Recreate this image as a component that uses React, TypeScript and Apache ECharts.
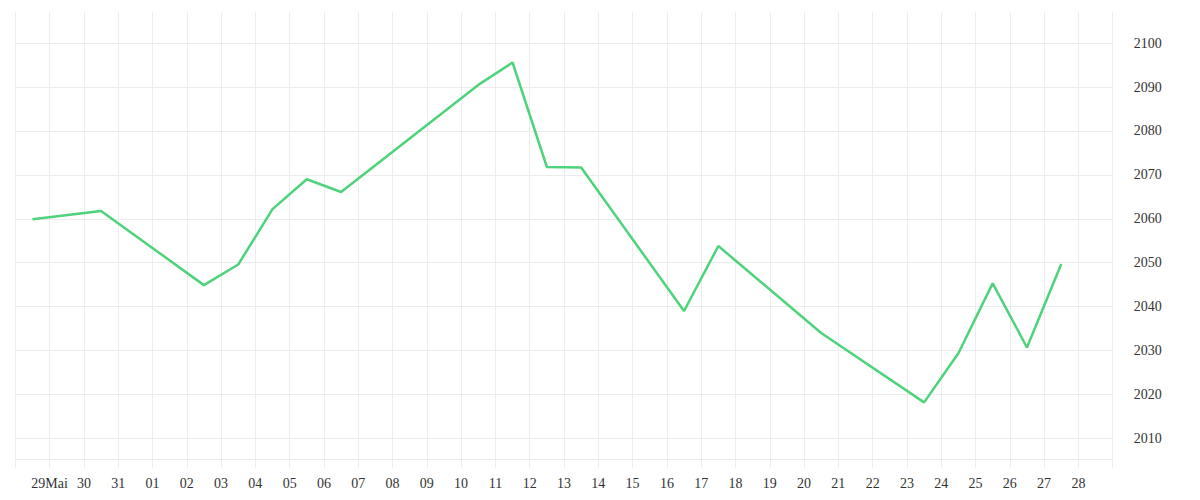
import React, { useEffect, useRef } from "react";
import * as echarts from "echarts";

// Points sit at noon of each trading day
const dates = [
  "2019-05-28", "2019-05-30", "2019-06-02", "2019-06-03", "2019-06-04",
  "2019-06-05", "2019-06-06", "2019-06-10", "2019-06-11", "2019-06-12",
  "2019-06-13", "2019-06-16", "2019-06-17", "2019-06-20", "2019-06-23",
  "2019-06-24", "2019-06-25", "2019-06-26", "2019-06-27",
];
const values = [
  2059.9, 2061.8, 2044.9, 2049.6, 2062.2,
  2069.0, 2066.1, 2090.5, 2095.6, 2071.8,
  2071.7, 2039.0, 2053.8, 2034.0, 2018.2,
  2029.4, 2045.3, 2030.7, 2049.7,
];
// labels for the daily ticks, May 29 .. June 28
const tickLabels = [
  "29Mai", "30", "31", "01", "02", "03", "04", "05", "06", "07", "08",
  "09", "10", "11", "12", "13", "14", "15", "16", "17", "18", "19",
  "20", "21", "22", "23", "24", "25", "26", "27", "28",
];

const DAY = 86400000;
const toTime = (d: string) => {
  const [y, m, day] = d.split("-").map(Number);
  return new Date(y, m - 1, day, 12).getTime();
};
const xMin = new Date(2019, 4, 28).getTime();
const xMax = new Date(2019, 5, 29).getTime();

const GRID = "#ececec";
const FONT = "'Liberation Serif', serif";

const App: React.FC = () => {
  const chartRef = useRef<HTMLDivElement>(null);

  useEffect(() => {
    if (!chartRef.current) return;
    const chart = echarts.init(chartRef.current, null, { renderer: "svg" });

    const option = {
      animation: false,
      grid: { left: 15.3, right: 87.3, top: 12, bottom: 41, containLabel: false },
      xAxis: {
        type: "time",
        min: xMin,
        max: xMax,
        minInterval: DAY,
        maxInterval: DAY,
        axisLine: { show: true, lineStyle: { color: GRID, width: 1 } },
        axisTick: { show: true, length: 9, lineStyle: { color: GRID } },
        splitLine: { show: true, lineStyle: { color: GRID, width: 1 } },
        axisLabel: {
          color: "#333",
          fontFamily: FONT,
          fontSize: 14,
          margin: 17,
          hideOverlap: false,
          showMinLabel: false,
          showMaxLabel: false,
          formatter: (value: number) => {
            const idx = Math.round((value - xMin) / DAY) - 1;
            return tickLabels[idx] ?? "";
          },
        },
      },
      yAxis: {
        type: "value",
        position: "right",
        min: 2005.3,
        max: 2107.1,
        splitNumber: 10,
        axisLine: { show: false },
        axisTick: { show: false },
        splitLine: {
          show: true,
          showMinLine: false,
          showMaxLine: false,
          lineStyle: { color: GRID, width: 1 },
        },
        axisLabel: {
          color: "#333",
          fontFamily: FONT,
          fontSize: 14,
          margin: 21,
          showMinLabel: false,
          showMaxLabel: false,
          formatter: (v: number) => String(Math.round(v)),
        },
      },
      series: [
        {
          type: "line",
          data: dates.map((d, i) => [toTime(d), values[i]]),
          showSymbol: false,
          lineStyle: { color: "#4ed37c", width: 2.5 },
        },
      ],
    };

    chart.setOption(option);
    return () => {
      chart.dispose();
    };
  }, []);

  return (
    <div
      ref={chartRef}
      style={{ position: "fixed", left: 0, top: 0, width: 1200, height: 500, background: "#fff" }}
    />
  );
};

export default App;
